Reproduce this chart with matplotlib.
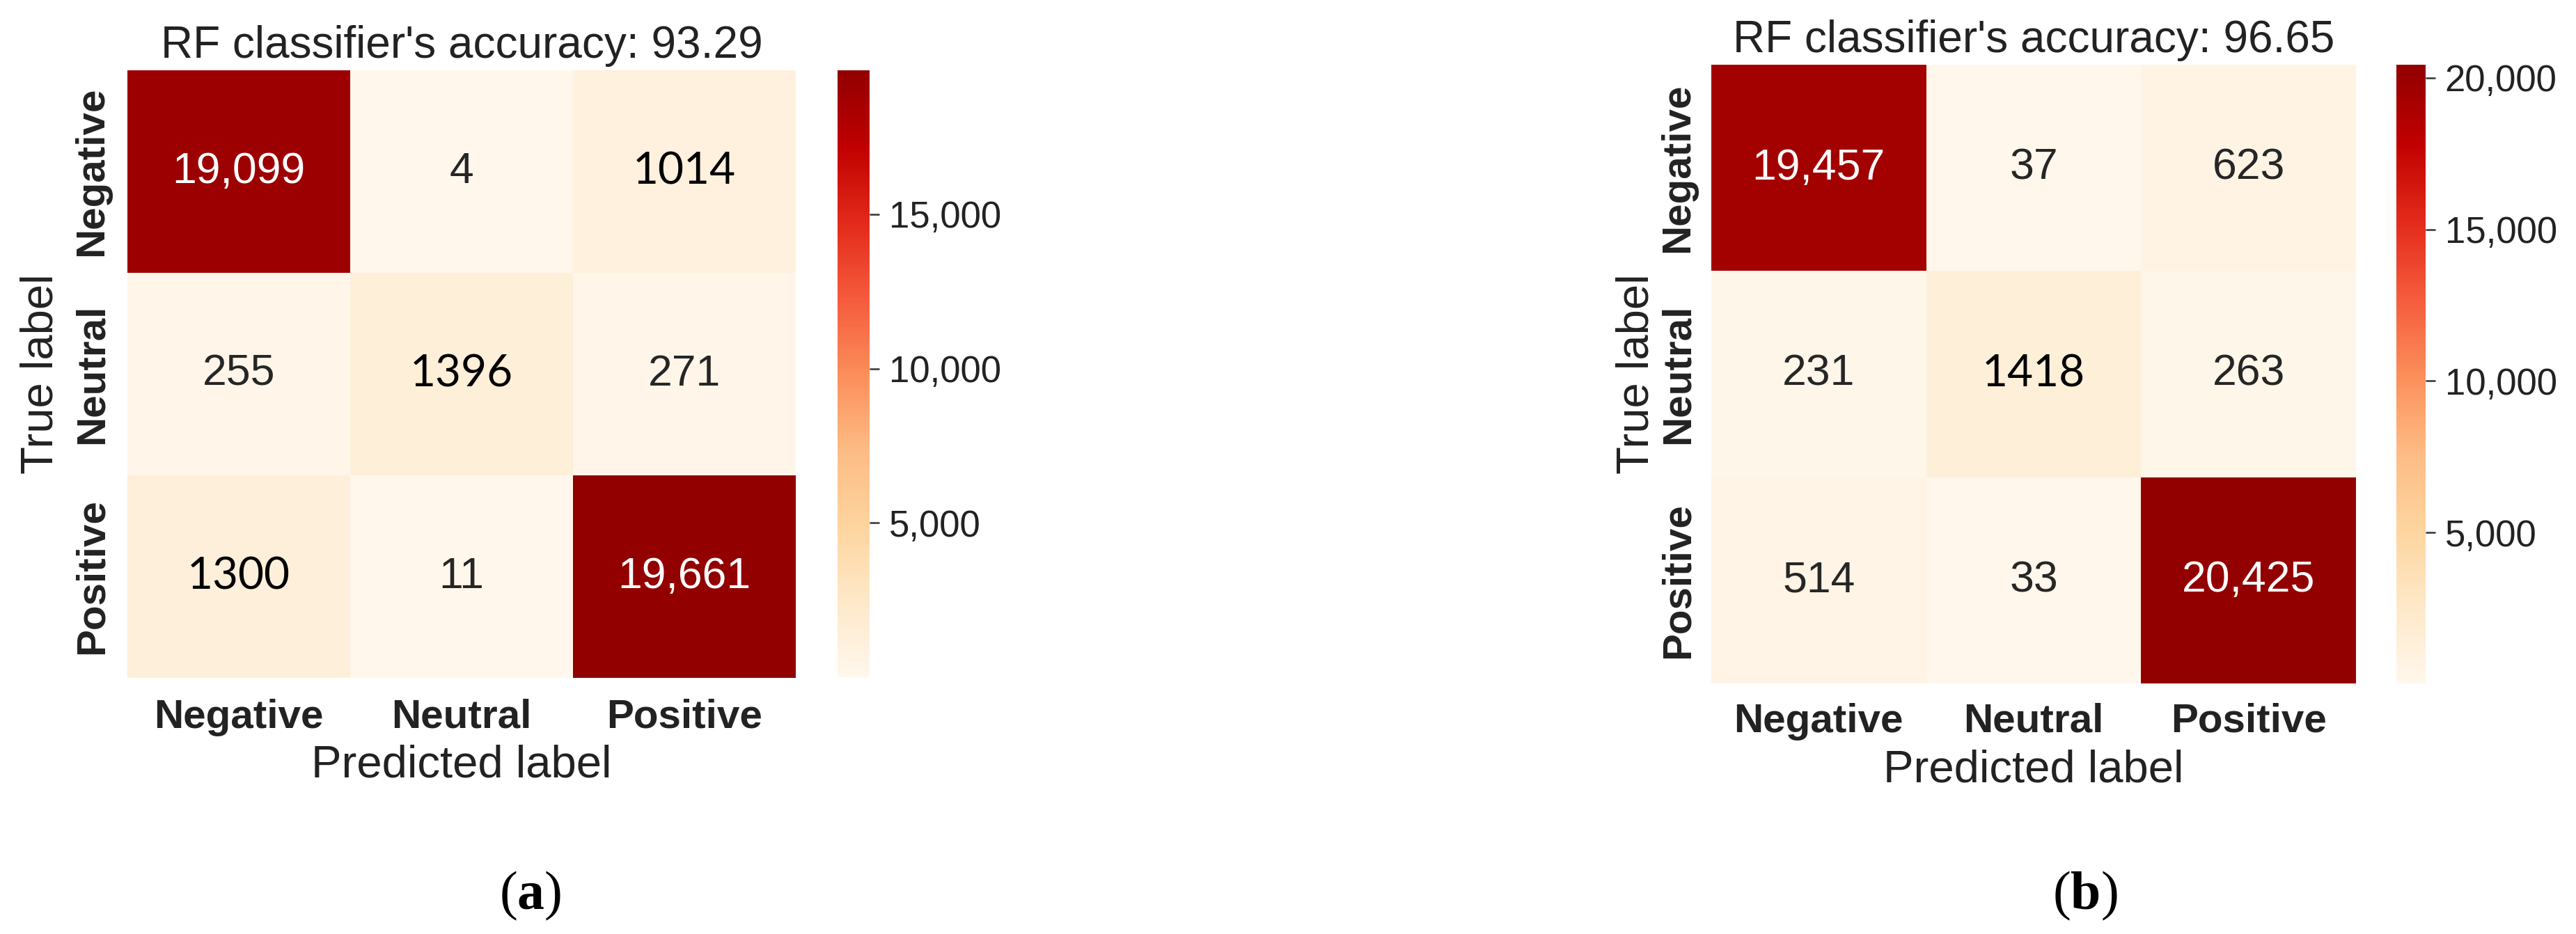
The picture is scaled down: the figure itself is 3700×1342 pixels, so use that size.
import numpy as np
import matplotlib
matplotlib.use('Agg')
import matplotlib.pyplot as plt
import seaborn as sns
from matplotlib.colors import LinearSegmentedColormap
from matplotlib.ticker import FuncFormatter
from seaborn.utils import relative_luminance

# confusion matrices of the two RF runs
labels = ['Negative', 'Neutral', 'Positive']
cm_a = np.array([[19099, 4, 1014],
                 [255, 1396, 271],
                 [1300, 11, 19661]])
cm_b = np.array([[19457, 37, 623],
                 [231, 1418, 263],
                 [514, 33, 20425]])
acc_a = 93.29
acc_b = 96.65

# cells that were typed over by hand in the original (other font, no comma)
edited_a = [(0, 2), (1, 1), (2, 0)]
edited_b = [(1, 1)]

cbar_ticks_a = [5000, 10000, 15000]
cbar_ticks_b = [5000, 10000, 15000, 20000]

plt.rcParams['font.family'] = ['Liberation Sans', 'DejaVu Sans']
plt.rcParams['mathtext.fontset'] = 'custom'
plt.rcParams['mathtext.rm'] = 'Liberation Serif'
plt.rcParams['mathtext.bf'] = 'Liberation Serif:bold'

# OrRd, with the red end a little brighter like the figure in the paper
cmap = LinearSegmentedColormap.from_list('orrd_bright', [
    '#fff7ec', '#fee8c8', '#fdd49e', '#fdbb84', '#fc8d59',
    '#f55a3c', '#e22a1a', '#c00000', '#920000'])

W, H = 3700, 1342
fig = plt.figure(figsize=(W / 100, H / 100), dpi=100)


def px_rect(x0, y0, x1, y1):
    # pixel box (top-left origin) -> figure fraction rect
    return [x0 / W, 1 - y1 / H, (x1 - x0) / W, (y1 - y0) / H]


def draw(ax_box, cbar_box, cm, acc, edited, cticks, ylab_x, xlab_y, xpad, ypad):
    ax = fig.add_axes(px_rect(*ax_box))
    cax = fig.add_axes(px_rect(*cbar_box))
    sns.heatmap(cm, cmap=cmap, ax=ax, cbar_ax=cax,
                xticklabels=labels, yticklabels=labels)

    vmin, vmax = cm.min(), cm.max()
    for i in range(cm.shape[0]):
        for j in range(cm.shape[1]):
            v = cm[i, j]
            if (i, j) in edited:
                ax.text(j + 0.5, i + 0.5, str(v), fontfamily='Lato',
                        fontsize=46, color='black', ha='center', va='center')
            else:
                lum = relative_luminance(cmap((v - vmin) / (vmax - vmin)))
                col = '#262626' if lum > .408 else 'white'
                ax.text(j + 0.5, i + 0.5, f'{v:,}', fontsize=45,
                        color=col, ha='center', va='center')

    ax.set_xticklabels(labels, fontweight='bold', fontsize=42, color='#222222')
    ax.set_yticklabels(labels, fontweight='bold', fontsize=42, color='#222222',
                       rotation=90, va='center')
    ax.tick_params(axis='x', length=0, pad=xpad)
    ax.tick_params(axis='y', length=0, pad=ypad)

    ax.set_title(f"RF classifier's accuracy: {acc:.2f}", fontsize=46,
                 pad=13, color='#222222')
    ax.set_xlabel('Predicted label', fontsize=47, color='#222222')
    ax.set_ylabel('True label', fontsize=47, color='#222222')
    ax.xaxis.set_label_coords(0.5, xlab_y)
    ax.yaxis.set_label_coords(ylab_x, 0.5)

    cb = ax.collections[0].colorbar
    cb.set_ticks(cticks)
    cb.ax.yaxis.set_major_formatter(FuncFormatter(lambda x, p: f'{x:,.0f}'))
    cb.ax.tick_params(labelsize=38, length=10, width=1.8, color='#333333',
                      labelcolor='#222222', pad=10)
    cb.outline.set_visible(False)
    return ax


draw((183, 101, 1143, 974), (1203, 101, 1249, 973), cm_a, acc_a, edited_a,
     cbar_ticks_a, -0.098, -0.109, 21.6, 17)
draw((2458, 93, 3384, 982), (3442, 93, 3484, 982), cm_b, acc_b, edited_b,
     cbar_ticks_b, -0.084, -0.106, 20, 15)

fig.text(762 / W, 1 - 1287 / H, r'($\mathbf{a}$)', fontfamily='Liberation Serif',
         fontsize=56, ha='center', va='center', color='black')
fig.text(2995 / W, 1 - 1287 / H, r'($\mathbf{b}$)', fontfamily='Liberation Serif',
         fontsize=56, ha='center', va='center', color='black')

fig.savefig('out.png', dpi=100, facecolor='white')
